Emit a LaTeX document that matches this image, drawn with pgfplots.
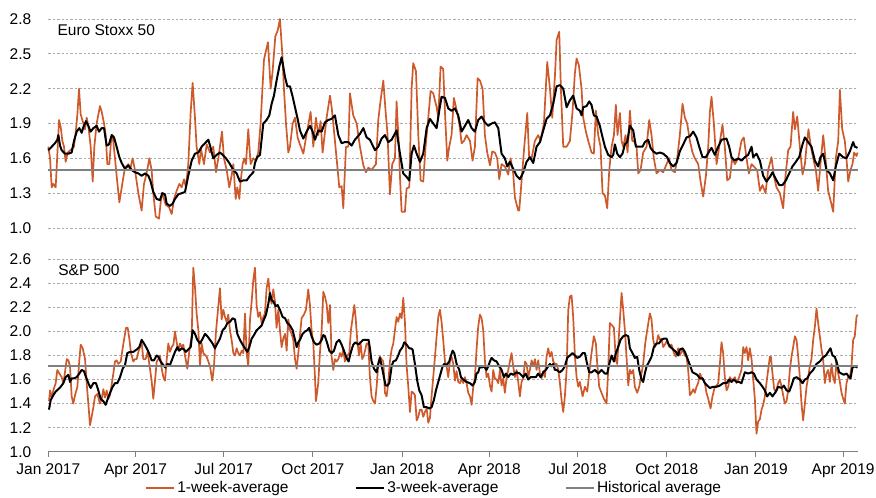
\documentclass[border=0pt]{standalone}
\usepackage{pgfplots}
\pgfplotsset{compat=1.18}
\usepackage{fontspec}
\setmainfont{Liberation Sans}

\definecolor{wkorange}{RGB}{206,90,44}
\definecolor{histgray}{RGB}{128,128,128}
\definecolor{gridgray}{RGB}{170,170,170}

\pgfplotsset{
  panel/.style={
    scale only axis, width=404.7pt, xmin=0, xmax=835, clip=false,
    axis line style={draw=none},
    ymajorgrids, grid style={gridgray, dash pattern=on 1.2pt off 1pt, line width=0.45pt},
    ytick style={draw=none},
    tick label style={font=\fontsize{7.75}{9.3}\selectfont},
    /pgf/number format/assume math mode=true,
    yticklabel style={/pgf/number format/fixed, /pgf/number format/fixed zerofill, /pgf/number format/precision=1},
  },
  wk1/.style={wkorange, line width=0.85pt, line join=round},
  wk3/.style={black, line width=1.0pt, line join=round},
  hist/.style={histgray, line width=0.9pt},
}

\begin{document}
\begin{tikzpicture}[font=\fontsize{7.75}{9.3}\selectfont]
\useasboundingbox (0,0) rectangle (438pt,248.5pt);

% Euro Stoxx 50
\begin{axis}[panel, at={(24.15pt,134.5pt)}, anchor=south west, height=104.5pt,
  ymin=1.0, ymax=2.8, ytick={1.0,1.3,1.6,1.9,2.2,2.5,2.8}, xtick=\empty,
  yticklabel style={xshift=-5pt}]
\addplot[wk1] coordinates {
(0,1.70) (1.8,1.60) (3.5,1.35) (5.2,1.38) (7.6,1.35) (11.1,1.93) (12.8,1.87) (14.5,1.75) (16.2,1.70) (17.9,1.57)
(20,1.65) (24.1,1.68) (26.5,1.70) (28.6,1.85) (30,1.98) (31.7,2.20) (33.4,1.98) (36.2,1.90) (37.9,1.85) (39.6,1.95)
(41.3,1.88) (43.7,1.70) (45.8,1.40) (47.5,1.70) (49.9,1.90) (53.3,2.05) (55.1,2.00) (57.5,1.90) (59.2,1.80) (60.9,1.55)
(63,1.55) (64.7,1.75) (66.4,1.80) (68.8,1.60) (70.5,1.45) (73.3,1.22) (76.7,1.40) (79.1,1.52) (82.6,1.55) (84.3,1.50)
(87,1.60) (89.4,1.50) (92.9,1.30) (96.3,1.15) (98.7,1.38) (100.8,1.45) (103.2,1.55) (104.2,1.60) (106.6,1.50) (108.3,1.30)
(110.8,1.10) (114.2,1.08) (116.3,1.25) (117.6,1.30) (121.1,1.20) (124.5,1.18) (127.3,1.12) (129.7,1.25) (132.4,1.32) (135.2,1.38)
(137.6,1.35) (140,1.42) (142,1.35) (144.4,1.55) (146.9,2.00) (148.9,2.25) (151.3,1.95) (153,1.70) (155.8,1.55) (157.5,1.68)
(160.6,1.55) (163.4,1.72) (166.8,1.65) (170.2,1.70) (173,1.48) (175.4,1.60) (179.2,1.83) (181.2,1.60) (184,1.50) (186.7,1.35)
(189.1,1.45) (190.9,1.55) (193.3,1.25) (195,1.35) (197.1,1.25) (198.4,1.40) (200.5,1.55) (202.2,1.60) (203.9,1.55) (206.3,1.85)
(208.7,1.55) (211.5,1.60) (213.9,1.58) (216.6,1.65) (219,1.90) (222.5,2.45) (226.6,2.60) (229.4,2.20) (231.4,2.35) (234.2,2.65)
(236.6,2.70) (239,2.80) (241.4,2.50) (243.1,2.20) (245.2,1.90) (247.6,1.65) (249.3,1.70) (252.1,1.90) (254.5,1.95) (257.2,1.78)
(259.6,1.72) (263.1,1.64) (266.5,1.81) (270.6,2.00) (273.4,1.70) (276.1,1.95) (278.5,1.80) (280.9,1.92) (283,1.65) (287.1,1.95)
(290.6,2.14) (292.3,2.04) (294,1.90) (297.4,1.60) (300.2,1.35) (302.6,1.36) (304.3,1.17) (307.1,1.70) (309.5,1.70) (311.2,2.16)
(314.6,1.97) (318.1,1.90) (321.5,1.70) (325,1.54) (327.7,1.48) (330.1,1.52) (333.5,1.50) (338,1.55) (340.4,1.93) (342.8,2.10)
(345.6,2.27) (348,2.00) (350,1.80) (352.4,1.29) (354.8,1.55) (357.6,1.60) (359.3,2.09) (361.7,1.70) (362.8,1.44) (364.5,1.14)
(367.9,1.14) (369.6,1.34) (372.4,1.35) (374.8,2.20) (376.5,2.42) (379.3,2.35) (381.7,1.80) (384.1,1.41) (386.8,1.40) (389.2,1.70)
(392,1.95) (394.4,2.18) (397.1,2.16) (400.6,2.04) (402.3,1.95) (404.7,2.39) (407.4,2.37) (409.2,2.00) (411.6,1.58) (413.6,1.70)
(416,1.80) (418.4,2.12) (421.2,2.02) (424,1.90) (426.4,1.73) (428.8,1.75) (431.5,1.80) (435,1.75) (437.7,1.58) (440.1,1.70)
(442.9,2.29) (445.3,2.27) (448,2.20) (450.4,1.80) (452.8,1.65) (455.6,1.54) (458,1.66) (460.7,1.65) (463.1,1.60) (465.2,1.42)
(467.6,1.55) (471,1.53) (474.5,1.46) (476.9,1.60) (479.6,1.47) (481.4,1.26) (484.8,1.15) (485.8,1.15) (488.2,1.40) (491,1.70)
(494.1,1.99) (496.1,1.60) (498.6,1.60) (502,1.75) (505.4,1.80) (507.8,1.75) (511.3,1.90) (514.7,2.43) (517.5,2.20) (519.9,1.95)
(522.6,2.30) (524.4,2.62) (527.1,2.69) (528.8,2.20) (531.2,1.70) (534.7,1.70) (538.1,1.75) (540.8,2.00) (543.2,2.33) (545,2.46)
(547.4,2.40) (550.1,2.20) (551.8,1.95) (554.6,1.83) (557,1.75) (560.4,1.65) (562.8,1.64) (564.9,2.01) (567.3,1.80) (569.7,1.70)
(571.8,1.30) (574.2,1.28) (576.6,1.17) (578.7,1.50) (581.1,1.70) (583.5,1.80) (585.5,2.06) (587.2,1.80) (589.7,1.99) (591.4,1.75)
(593.1,1.70) (595.5,1.80) (597.6,1.65) (600,2.01) (602.4,1.75) (604.4,1.75) (606.8,1.70) (608.6,1.47) (611,1.50) (613.7,1.65)
(617.2,1.70) (619.9,1.93) (622.3,1.80) (624.7,1.60) (627.5,1.47) (630.9,1.50) (634.4,1.48) (637.8,1.55) (640.5,1.60) (642.9,1.50)
(646.4,1.48) (648.8,1.60) (651.5,1.80) (654.3,2.07) (656.7,1.95) (659.1,1.90) (661.9,1.75) (664.6,1.65) (667,1.60) (670.5,1.55)
(672.9,1.40) (675.6,1.27) (678.4,1.45) (680.8,1.70) (682.5,2.00) (684.2,2.13) (686.6,1.90) (689.4,1.55) (692.1,1.70) (695.5,1.89)
(697.9,1.70) (700.4,1.41) (703.1,1.43) (705.5,1.60) (708.3,1.55) (711.7,1.60) (715.1,1.75) (717.5,1.78) (720.3,1.60) (722.7,1.47)
(725.5,1.55) (728.9,1.52) (731.3,1.50) (734.1,1.32) (736.8,1.37) (739.9,1.30) (742.6,1.50) (746.1,1.61) (748.5,1.45) (751.2,1.35)
(754.7,1.30) (758.1,1.17) (760.5,1.45) (763.3,1.67) (765.7,1.70) (768.4,2.00) (770.2,1.85) (772.6,1.96) (775.3,1.70) (778.1,1.46)
(780.5,1.55) (782.2,1.70) (784.2,1.85) (786.7,1.70) (789.1,1.60) (791.8,1.50) (794.2,1.32) (796.6,1.55) (799.4,1.80) (801.8,1.60)
(804.5,1.32) (806.9,1.24) (809.7,1.14) (812.4,1.60) (814.9,1.75) (816.6,2.19) (819,1.85) (821.7,1.75) (823.4,1.60) (825.2,1.40)
(827.6,1.50) (829.6,1.55) (831.3,1.65) (833.8,1.62) (834.8,1.65)
};
\addplot[wk3] coordinates {
(0,1.67) (3.5,1.70) (6.9,1.73) (9.3,1.76) (10.4,1.80) (12.1,1.71) (13.8,1.67) (17.2,1.64) (20.7,1.64) (24.1,1.65)
(26.5,1.75) (29.3,1.83) (32,1.86) (34.4,1.82) (36.2,1.87) (38.9,1.92) (41.3,1.88) (43.7,1.83) (46.5,1.86) (49.9,1.88)
(52.3,1.83) (55.1,1.86) (57.5,1.86) (60.2,1.71) (62.6,1.72) (65.4,1.80) (67.8,1.78) (70.5,1.70) (73.3,1.61) (75.7,1.56)
(79.1,1.51) (82.6,1.54) (86,1.50) (89.4,1.48) (92.9,1.47) (96.3,1.45) (99.8,1.47) (103.2,1.45) (105.6,1.40) (108.3,1.31)
(111.8,1.25) (115.2,1.24) (117.6,1.30) (120.4,1.29) (122.1,1.21) (125.5,1.19) (128.3,1.21) (130.7,1.25) (134.1,1.29) (137.6,1.30)
(141,1.31) (144.4,1.45) (147.9,1.58) (151.3,1.64) (154.8,1.65) (158.2,1.70) (161.6,1.73) (165.1,1.76) (166.8,1.71) (170.2,1.60)
(173.7,1.63) (177.1,1.65) (179.9,1.63) (183.3,1.60) (186.7,1.56) (190.9,1.50) (194.3,1.47) (197.7,1.40) (201.2,1.41) (204.6,1.41)
(208.1,1.45) (211.5,1.48) (213.2,1.56) (215.6,1.61) (218.4,1.63) (221.8,1.90) (225.2,1.93) (228,1.97) (230.4,2.07) (232.8,2.14)
(235.5,2.27) (238.3,2.39) (240.7,2.47) (242.4,2.39) (244.2,2.30) (246.6,2.22) (249.3,2.22) (252.1,2.13) (254.5,2.04) (257.2,1.94)
(259.6,1.84) (263.1,1.77) (266.5,1.83) (270,1.88) (272.7,1.83) (275.1,1.76) (278.5,1.84) (282,1.83) (285.4,1.91) (288.8,1.93)
(292.3,1.94) (295.7,1.97) (299.2,1.80) (302.6,1.73) (306,1.74) (309.5,1.74) (312.9,1.71) (316.3,1.76) (321.5,1.81) (325,1.86)
(328.4,1.78) (331.8,1.76) (337,1.67) (340.4,1.70) (343.8,1.77) (347.3,1.80) (350.7,1.74) (354.2,1.76) (359.3,1.84) (362.8,1.64)
(366.2,1.47) (369.6,1.44) (372.4,1.41) (374.8,1.64) (377.2,1.71) (380,1.64) (383.4,1.57) (386.8,1.64) (390.3,1.86) (393.7,1.94)
(397.1,1.90) (400.6,1.86) (403.3,2.01) (405.7,2.13) (409.2,2.12) (412.6,2.03) (416,2.01) (419.5,2.03) (422.9,1.97) (426.4,1.83)
(429.8,1.88) (433.2,1.93) (436.7,1.86) (440.1,1.83) (443.5,1.93) (447,1.96) (450.4,1.91) (453.9,1.88) (457.3,1.90) (460.7,1.91)
(464.2,1.86) (467.6,1.64) (471,1.60) (473.5,1.53) (476.2,1.57) (479.6,1.51) (483.1,1.45) (486.5,1.42) (490,1.48) (493.4,1.57)
(496.8,1.61) (500.3,1.56) (503.7,1.70) (507.2,1.74) (510.6,1.84) (514,1.94) (517.5,1.97) (520.9,2.07) (524.4,2.22) (527.8,2.23)
(531.2,2.20) (534.7,2.04) (538.1,2.10) (541.5,2.14) (545,2.03) (548.4,2.01) (550.1,1.97) (551.8,2.04) (555.3,2.05) (558,2.09)
(560.4,2.06) (562.8,1.97) (565.6,1.96) (569,1.88) (571.8,1.78) (574.2,1.70) (577.6,1.63) (581.1,1.61) (582.8,1.63) (584.5,1.72)
(586.9,1.64) (589.7,1.61) (592.4,1.64) (594.8,1.72) (597.2,1.74) (600,1.88) (603.4,1.84) (606.2,1.70) (609.6,1.70) (613,1.70)
(615.4,1.74) (618.9,1.76) (621.3,1.69) (624,1.66) (627.5,1.64) (630.9,1.65) (634.4,1.64) (638.5,1.61) (641.2,1.56) (644.7,1.53)
(648.1,1.56) (651.5,1.66) (655,1.72) (658.4,1.78) (661.9,1.79) (665.3,1.83) (668.7,1.78) (671.5,1.70) (674.9,1.61) (678.4,1.61)
(681.8,1.66) (684.2,1.69) (687.6,1.63) (691.1,1.70) (694.5,1.76) (699.7,1.77) (702.4,1.70) (704.8,1.61) (708.3,1.58) (711.7,1.60)
(715.1,1.58) (718.6,1.61) (722,1.63) (725.5,1.70) (727.2,1.61) (730.6,1.64) (734.1,1.58) (737.5,1.45) (740.9,1.40) (744.4,1.44)
(747.1,1.48) (750.6,1.42) (754,1.37) (757.4,1.37) (760.9,1.41) (764.3,1.47) (767.7,1.53) (771.2,1.57) (774.6,1.61) (778.1,1.72)
(780.5,1.78) (783.9,1.74) (787.3,1.70) (790.8,1.58) (794.2,1.53) (796.6,1.61) (799.4,1.64) (802.8,1.50) (806.3,1.47) (809.7,1.41)
(812.4,1.53) (815.9,1.64) (820,1.61) (823.4,1.60) (826.9,1.66) (830.3,1.74) (832,1.70) (834.8,1.69)
};
\addplot[hist] coordinates {(0,1.5) (835,1.5)};
\node[anchor=west, inner sep=0pt] at (rel axis cs:0.011,0.947) {Euro Stoxx 50};
\end{axis}

% S&P 500
\begin{axis}[panel, at={(24.15pt,22.65pt)}, anchor=south west, height=96.2pt,
  ymin=1.0, ymax=2.6, ytick={1.0,1.2,1.4,1.6,1.8,2.0,2.2,2.4,2.6},
  separate axis lines, axis x line*=bottom, axis y line*=left,
  x axis line style={draw=histgray, line width=0.55pt, -},
  y axis line style={draw=none},
  xtick={0,90,181,273,365,455,546,638,730,820},
  xticklabels={Jan 2017,Apr 2017,Jul 2017,Oct 2017,Jan 2018,Apr 2018,Jul 2018,Oct 2018,Jan 2019,Apr 2019},
  tick align=outside, major tick length=2.5pt,
  xtick style={draw=histgray, line width=0.55pt},
  yticklabel style={xshift=-2.5pt},
  legend columns=3,
  legend image code/.code={\draw[#1] (0pt,0pt) -- (14pt,0pt);},
  legend style={at={(0.477,-0.19)}, anchor=center, draw=none, fill=none, inner sep=0pt,
    font=\fontsize{7.75}{9.3}\selectfont, nodes={inner sep=1.2pt},
    /tikz/every even column/.append style={column sep=32pt}},
  legend cell align=left]
\addplot[wk1] coordinates {
(0.7,1.42) (1.8,1.51) (3.5,1.45) (5.2,1.51) (7.6,1.57) (9.3,1.68) (11.4,1.65) (13.8,1.62) (15.5,1.57) (17.2,1.66)
(19,1.77) (20.7,1.76) (22.4,1.71) (24.1,1.46) (25.8,1.40) (27.6,1.47) (30,1.54) (32,1.76) (33.4,1.89) (35.5,1.86)
(37.9,1.77) (39.6,1.57) (41.3,1.40) (43,1.22) (44.7,1.29) (46.5,1.37) (48.2,1.46) (50.6,1.48) (53.3,1.40) (55.1,1.44)
(56.8,1.52) (58.5,1.45) (60.2,1.51) (61.9,1.44) (63.7,1.47) (67.1,1.65) (68.8,1.75) (70.5,1.76) (72.2,1.73) (74.7,1.75)
(76.7,1.86) (78.1,1.93) (80.2,2.03) (81.9,2.03) (83.6,1.94) (85.3,1.82) (87.7,1.75) (89.4,1.77) (91.2,1.77) (92.9,1.83)
(94.6,1.87) (96.3,1.91) (98,1.77) (100.4,1.77) (102.5,1.83) (104.2,1.73) (106.6,1.59) (108.3,1.44) (110.1,1.59) (111.8,1.75)
(113.5,1.77) (115.2,1.80) (117,1.69) (118.7,1.62) (120.4,1.59) (122.1,1.76) (123.8,1.90) (125.5,1.83) (127.3,1.87) (129,1.89)
(130.7,2.00) (132.4,1.91) (134.1,1.84) (135.9,1.90) (137.6,1.87) (139.3,1.89) (141,1.80) (143.4,1.69) (145.5,1.84) (147.9,1.96)
(149.6,2.53) (151.3,2.37) (153,2.15) (154.8,2.01) (156.5,1.72) (158.2,1.90) (159.9,1.82) (163.4,1.79) (165.1,1.75) (166.8,1.71)
(169.2,1.59) (170.9,1.71) (173,2.00) (175.4,2.21) (177.1,2.36) (178.8,2.10) (180.6,2.18) (182.3,2.12) (184,2.08) (185.7,2.14)
(187.4,2.01) (189.1,1.93) (190.9,1.82) (192.6,1.80) (194.3,1.86) (196,1.82) (197.7,1.80) (199.5,1.84) (201.2,1.82) (202.9,2.15)
(204.6,1.82) (206.3,1.71) (208.1,2.10) (209.8,2.25) (211.5,2.43) (213.2,2.53) (214.9,2.22) (216.6,2.12) (218.4,2.16) (220.1,2.07)
(221.8,2.12) (223.5,2.15) (225.2,2.36) (227,2.44) (228.7,2.29) (230.4,2.23) (232.1,2.35) (233.8,2.25) (235.5,2.03) (237.3,2.18)
(239,2.01) (240.7,1.87) (242.4,1.94) (244.2,1.98) (245.9,1.84) (247.6,2.10) (249.3,2.01) (251,1.98) (252.7,1.93) (254.5,1.77)
(256.2,1.69) (257.9,1.82) (261.3,2.11) (263.7,2.14) (265.8,2.18) (268.2,2.35) (269.9,2.22) (271.6,2.01) (273.4,1.90) (275.1,1.62)
(276.1,1.42) (278.5,1.57) (280.2,1.82) (282,2.01) (283.7,2.33) (285.4,2.29) (287.1,2.23) (288.8,2.07) (290.6,2.22) (292.3,1.79)
(294,1.68) (295.7,1.77) (297.4,1.75) (299.2,1.77) (300.9,1.82) (302.6,1.79) (304.3,1.85) (306,1.75) (307.7,1.79) (310.5,1.82)
(312.2,2.01) (313.9,2.11) (315.7,2.22) (317,2.12) (318.7,1.93) (320.5,1.80) (322.2,1.90) (323.9,1.77) (325.6,1.80) (328.4,1.90)
(330.1,1.90) (331.8,1.62) (333.5,1.46) (335.3,1.42) (337,1.40) (338.7,1.54) (340.4,1.73) (342.1,1.79) (343.8,1.77) (345.6,1.75)
(347.3,1.49) (349,1.46) (350.7,1.57) (352.4,1.75) (354.2,1.85) (355.9,1.90) (357.6,2.01) (359.3,2.12) (361,2.08) (362.8,2.15)
(364.5,2.11) (366.2,2.28) (367.9,2.08) (369.6,1.72) (371.3,1.55) (373.1,1.33) (374.8,1.50) (376.5,1.49) (378.2,1.47) (380,1.26)
(381.7,1.29) (383.4,1.35) (385.1,1.35) (386.8,1.29) (388.5,1.33) (390.3,1.36) (392,1.24) (393.7,1.28) (395.4,1.46) (397.1,1.62)
(398.9,1.79) (400.6,1.96) (402.3,2.12) (404,2.18) (405.7,2.08) (407.4,1.93) (409.2,1.75) (410.9,1.71) (412.6,1.62) (414.3,1.75)
(416,1.79) (417.8,1.73) (419.5,1.59) (421.2,1.67) (422.9,1.58) (424.6,1.57) (426.4,1.61) (428.1,1.57) (429.8,1.62) (431.5,1.57)
(433.2,1.49) (435,1.46) (436.7,1.39) (438.4,1.54) (440.1,1.62) (441.8,1.85) (443.5,2.04) (445.3,2.14) (447,2.11) (448.7,2.01)
(450.4,1.76) (452.1,1.62) (453.9,1.65) (455.6,1.55) (457.3,1.50) (459,1.68) (460.7,1.61) (462.5,1.60) (464.2,1.57) (465.9,1.68)
(467.6,1.55) (469.3,1.61) (471,1.49) (472.8,1.62) (474.5,1.68) (476.2,1.75) (477.9,1.82) (479.6,1.71) (481.4,1.62) (483.1,1.68)
(484.8,1.58) (486.5,1.46) (488.2,1.58) (490,1.61) (491.7,1.75) (493.4,1.73) (495.1,1.62) (496.8,1.68) (498.6,1.76) (500.3,1.71)
(502,1.77) (503.7,1.68) (505.4,1.76) (507.2,1.65) (508.9,1.61) (510.6,1.67) (512.3,1.62) (514,1.79) (515.7,1.86) (517.5,1.79)
(519.2,1.83) (520.9,1.75) (522.6,1.73) (524.4,1.73) (526.1,1.68) (527.8,1.57) (529.5,1.43) (531.2,1.33) (532.9,1.46) (534.7,1.68)
(536.4,2.18) (538.1,2.29) (539.8,2.30) (541.5,2.12) (543.3,1.79) (545,1.62) (546.7,1.54) (548.4,1.58) (551.2,1.46) (553.6,1.54)
(556,1.50) (558,1.65) (560.4,1.82) (562.8,1.96) (564.9,1.90) (566.3,1.73) (568.3,1.54) (570.7,1.49) (573.2,1.44) (575.9,1.40)
(577.6,1.68) (579.3,2.07) (581.7,2.05) (583.5,2.03) (585.5,1.76) (586.9,1.73) (589,2.01) (591.4,2.32) (593.1,2.18) (594.8,2.01)
(596.5,1.79) (598.3,1.55) (600,1.68) (601.7,1.65) (603.4,1.68) (605.1,1.54) (607.5,1.49) (609.6,1.54) (612,1.65) (613.7,1.73)
(615.8,1.90) (617.8,2.01) (620.6,2.15) (622.3,2.10) (624,1.93) (625.8,1.87) (627.5,1.90) (629.2,1.97) (630.9,1.93) (632.6,1.94)
(634.4,1.87) (636.8,1.90) (638.5,1.93) (640.5,1.87) (642.9,1.89) (645.4,1.82) (647.4,1.79) (649.8,1.86) (651.5,1.80) (654.3,1.85)
(656.7,1.80) (658.4,1.79) (660.1,1.68) (661.9,1.47) (663.6,1.49) (665.3,1.52) (667,1.49) (668.7,1.54) (670.4,1.57) (672.2,1.65)
(673.9,1.62) (675.6,1.60) (677.3,1.57) (679,1.49) (680.8,1.44) (683.2,1.36) (685.2,1.46) (687.6,1.54) (689.4,1.55) (691.1,1.57)
(692.8,1.73) (694.5,1.91) (696.2,1.82) (697.9,1.62) (699.7,1.51) (701.4,1.54) (703.1,1.62) (704.8,1.60) (706.5,1.60) (708.3,1.62)
(710,1.57) (712.7,1.62) (715.1,1.68) (716.9,1.87) (718.6,1.82) (720.3,1.87) (722,1.76) (723.7,1.86) (725.5,1.77) (727.2,1.60)
(728.9,1.44) (730.6,1.15) (732.3,1.25) (734.1,1.27) (735.8,1.35) (737.5,1.39) (739.2,1.46) (740.9,1.57) (742.6,1.68) (744.4,1.79)
(745.4,1.79) (747.1,1.65) (748.8,1.52) (750.6,1.50) (753,1.57) (754.7,1.60) (756.4,1.54) (758.1,1.47) (759.8,1.40) (761.6,1.42)
(763.3,1.51) (765,1.68) (766.7,1.79) (768.4,1.87) (770.2,1.96) (771.9,1.93) (773.6,1.79) (775.3,1.62) (777,1.40) (778.7,1.26)
(780.5,1.40) (782.2,1.54) (783.9,1.62) (785.6,1.71) (787.3,1.77) (789.1,1.93) (790.8,2.04) (792.5,2.19) (794.2,2.07) (795.9,1.96)
(797.7,1.85) (799.4,1.76) (801.1,1.57) (802.8,1.65) (804.5,1.68) (806.3,1.58) (808,1.73) (809.7,1.62) (811.4,1.57) (813.1,1.76)
(814.9,1.65) (816.6,1.58) (818.3,1.49) (820,1.44) (821.7,1.40) (823.4,1.57) (825.2,1.62) (826.9,1.62) (828.6,1.71) (830.3,1.93)
(832,1.96) (833.7,2.12) (834.8,2.14)
};
\addlegendentry{1-week-average}
\addplot[wk3] coordinates {
(0.7,1.35) (2.5,1.43) (5.2,1.47) (7.6,1.50) (10.4,1.52) (12.8,1.54) (15.5,1.57) (17.9,1.62) (20.7,1.64) (22.4,1.58)
(24.1,1.61) (26.5,1.61) (29.3,1.62) (32,1.65) (34.4,1.68) (36.8,1.67) (38.9,1.62) (41.3,1.57) (43.7,1.53) (46.5,1.57)
(49.2,1.57) (51.6,1.51) (54,1.44) (56.8,1.42) (59.2,1.39) (60.9,1.43) (63.7,1.49) (66.4,1.54) (68.8,1.57) (71.2,1.57)
(74,1.62) (76.7,1.69) (79.1,1.72) (81.5,1.82) (84.3,1.83) (87.7,1.83) (91.2,1.85) (93.9,1.87) (96.3,1.93) (98.7,1.90)
(101.5,1.86) (103.9,1.82) (106.6,1.76) (109,1.76) (111.8,1.80) (113.5,1.79) (115.9,1.75) (118.7,1.72) (120.7,1.70) (122.8,1.73)
(125.5,1.72) (128.3,1.78) (130.7,1.83) (133.1,1.87) (135.2,1.84) (137.6,1.86) (140,1.85) (142,1.83) (144.4,1.85) (146.9,1.87)
(148.9,2.01) (151.3,1.98) (153.7,1.93) (156.5,1.90) (159.2,1.94) (161.6,1.98) (164.1,1.96) (166.8,1.93) (169.5,1.90) (171.9,1.86)
(174.4,1.90) (177.1,1.94) (179.9,2.01) (182.3,2.03) (184.7,2.07) (187.4,2.08) (190.2,2.11) (192.6,2.10) (195,1.98) (197.7,1.93)
(200.5,1.89) (202.9,1.86) (205.3,1.83) (207.4,1.87) (209.8,1.94) (212.2,1.97) (214.9,2.01) (217.7,2.03) (220.1,2.05) (222.5,2.10)
(224.6,2.14) (227,2.23) (228.7,2.32) (230.4,2.26) (232.1,2.25) (234.5,2.21) (236.6,2.22) (239,2.18) (241.7,2.12) (244.2,2.11)
(246.6,2.07) (249.3,2.05) (252.1,2.01) (254.5,1.93) (256.2,1.87) (257.9,1.91) (259.6,1.93) (262.4,1.98) (264.8,2.00) (267.2,2.01)
(269.2,2.03) (271.6,1.96) (274.1,1.91) (276.8,1.89) (279.6,1.90) (282,1.93) (283.7,1.97) (285.4,1.96) (287.8,1.90) (289.9,1.84)
(292.3,1.82) (294.7,1.84) (297.4,1.91) (300.2,1.93) (302.6,1.89) (305,1.84) (307.7,1.78) (309.8,1.75) (312.2,1.83) (314.6,1.89)
(317,1.91) (319.8,1.89) (322.2,1.91) (324.9,1.93) (328.4,1.93) (330.4,1.93) (331.8,1.86) (333.5,1.75) (336,1.69) (338.7,1.66)
(340.4,1.73) (342.1,1.78) (343.8,1.72) (346.2,1.62) (348,1.55) (349.7,1.55) (351.8,1.57) (354.2,1.71) (355.9,1.75) (358.6,1.76)
(361,1.80) (362.8,1.84) (365.5,1.87) (367.2,1.91) (369.6,1.89) (372.4,1.86) (373.8,1.86) (375.8,1.85) (378.2,1.73) (380.6,1.59)
(382.7,1.51) (385.1,1.47) (387.5,1.37) (390.3,1.37) (393,1.36) (395.4,1.37) (397.8,1.43) (399.9,1.51) (402.3,1.58) (404.7,1.65)
(406.8,1.71) (408.5,1.73) (410.9,1.72) (413.6,1.75) (415.4,1.80) (417.1,1.84) (418.8,1.82) (421.2,1.73) (424,1.68) (425.7,1.62)
(428.1,1.60) (431.5,1.58) (435,1.57) (437.7,1.55) (440.1,1.58) (441.8,1.65) (443.5,1.66) (445.3,1.71) (447,1.70) (449.4,1.71)
(452.1,1.68) (453.9,1.71) (455.6,1.75) (457.3,1.78) (459.7,1.76) (462.5,1.75) (465.2,1.71) (467.6,1.68) (470,1.62) (472.1,1.65)
(474.5,1.62) (476.9,1.65) (479.6,1.64) (483.1,1.66) (486.5,1.65) (490,1.62) (492.4,1.65) (495.1,1.60) (497.5,1.62) (500.3,1.62)
(503,1.62) (505.4,1.65) (507.8,1.62) (510.6,1.66) (513.3,1.68) (515.7,1.71) (517.5,1.73) (519.2,1.71) (520.9,1.73) (522.6,1.68)
(524.4,1.68) (527.8,1.66) (530.5,1.68) (532.9,1.71) (535.3,1.78) (538.1,1.80) (540.8,1.82) (543.3,1.80) (545.7,1.78) (548.4,1.79)
(551.2,1.82) (553.6,1.82) (555.3,1.75) (558,1.66) (560.4,1.66) (563.9,1.68) (567.3,1.65) (570.7,1.68) (574.2,1.65) (576.6,1.65)
(578.7,1.73) (581.1,1.80) (583.5,1.75) (585.5,1.82) (587.9,1.87) (590.3,1.93) (593.1,1.96) (595.8,1.97) (598.3,1.96) (600,1.86)
(602.7,1.82) (605.1,1.78) (607.5,1.79) (609.6,1.68) (612,1.60) (613.7,1.58) (615.4,1.65) (617.2,1.71) (619.9,1.75) (622.3,1.79)
(624.7,1.87) (627.5,1.90) (629.9,1.90) (632.6,1.93) (635,1.94) (637.8,1.94) (639.5,1.90) (641.9,1.87) (644.7,1.85) (647.4,1.83)
(649.8,1.80) (651.5,1.85) (654.3,1.86) (656.7,1.83) (659.1,1.78) (661.9,1.72) (664.6,1.66) (667,1.65) (669.4,1.64) (672.2,1.61)
(674.9,1.61) (677.3,1.57) (679.7,1.55) (682.5,1.53) (685.9,1.54) (689.4,1.54) (692.8,1.55) (696.2,1.57) (699.7,1.57) (702.4,1.60)
(704.8,1.58) (707.2,1.60) (710,1.58) (712.7,1.58) (715.1,1.57) (718.6,1.66) (722,1.65) (725.5,1.66) (727.9,1.65) (730.6,1.60)
(734.1,1.57) (736.8,1.54) (739.2,1.51) (741.6,1.46) (744.4,1.49) (747.1,1.46) (750.6,1.50) (753,1.54) (756.4,1.53) (758.8,1.55)
(761.6,1.51) (764.3,1.50) (766.7,1.55) (769.1,1.61) (771.9,1.62) (775.3,1.60) (778.1,1.57) (780.5,1.60) (782.9,1.61) (785.6,1.65)
(789.1,1.68) (792.5,1.73) (795.9,1.75) (798.7,1.78) (802.1,1.80) (804.5,1.83) (806.9,1.86) (809,1.80) (811.4,1.79) (813.8,1.73)
(815.9,1.66) (818.3,1.65) (820.7,1.64) (823.4,1.65) (826.2,1.62) (827.6,1.61) (829.6,1.70) (832,1.71) (834.8,1.70)
};
\addlegendentry{3-week-average}
\addplot[hist] coordinates {(0,1.715) (835,1.715)};
\addlegendentry{Historical average}
\node[anchor=west, inner sep=0pt] at (rel axis cs:0.012,0.944) {S\&P 500};
\end{axis}
\end{tikzpicture}
\end{document}
